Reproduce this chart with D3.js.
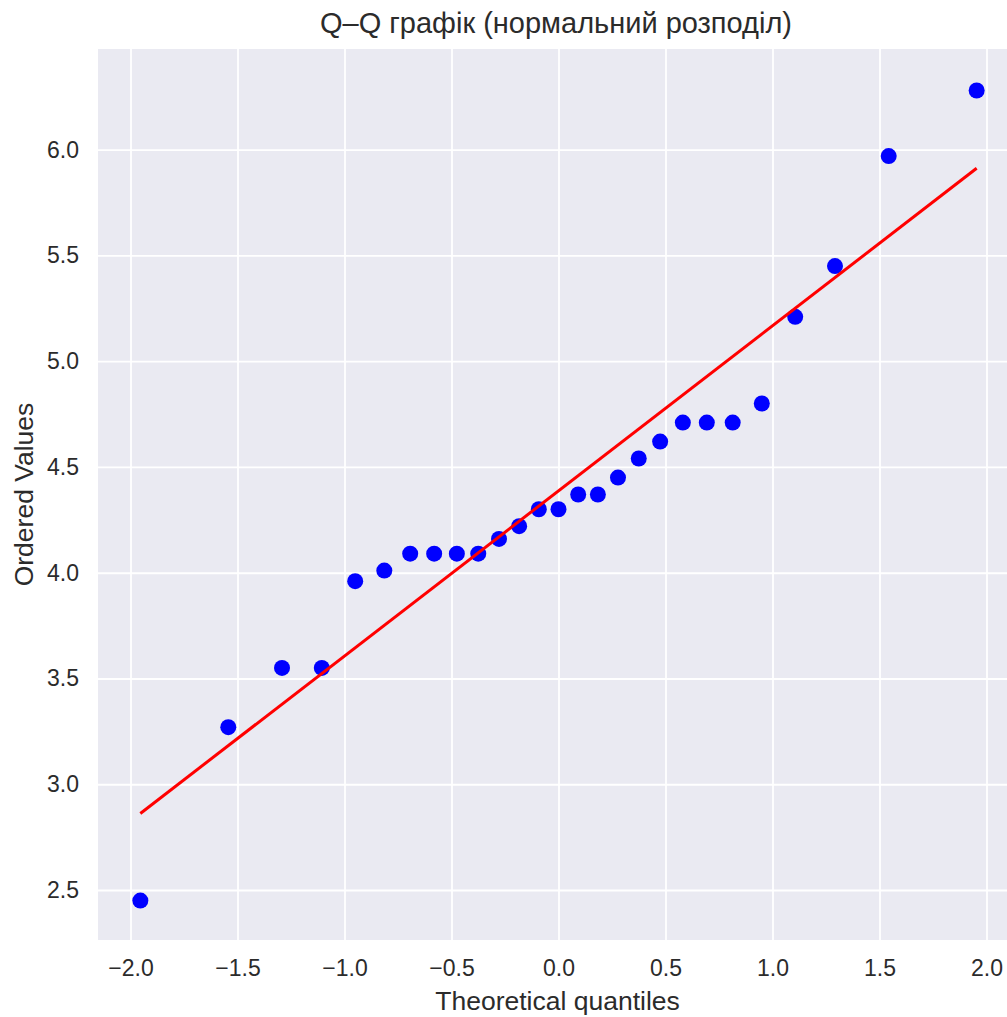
<!DOCTYPE html>
<html>
<head>
<meta charset="utf-8">
<script src="https://cdn.jsdelivr.net/npm/d3@7"></script>
<style>
  body { margin: 0; background: #fff; }
  svg text { font-family: "Liberation Sans", Arial, sans-serif; fill: #2b2b2b; }
</style>
</head>
<body>
<svg id="chart" width="1007" height="1017"></svg>
<script>
// -----------------------------------------------------------------------------

var titleText = 'Q\u2013Q графік (нормальний розподіл)';
var xLabelText = 'Theoretical quantiles';
var yLabelText = 'Ordered Values';

// theoretical quantiles
var theoretical = [
  -1.954, -1.543, -1.292, -1.106, -0.950, -0.814, -0.693, -0.581, -0.475,
  -0.375, -0.278, -0.184, -0.092, 0.000, 0.092, 0.184, 0.278, 0.375,
  0.475, 0.581, 0.693, 0.814, 0.950, 1.106, 1.292, 1.543, 1.954
];

// ordered sample values
var ordered = [
  2.45, 3.27, 3.55, 3.55, 3.96, 4.01, 4.09, 4.09, 4.09,
  4.09, 4.16, 4.22, 4.30, 4.30, 4.37, 4.37, 4.45, 4.54,
  4.62, 4.71, 4.71, 4.71, 4.80, 5.21, 5.45, 5.97, 6.28
];

// fitted line (slope, intercept)
var fitSlope = 0.7805;
var fitIntercept = 4.387;

var xTicks = [-2.0, -1.5, -1.0, -0.5, 0.0, 0.5, 1.0, 1.5, 2.0];
var yTicks = [2.5, 3.0, 3.5, 4.0, 4.5, 5.0, 5.5, 6.0];

// -----------------------------------------------------------------------------

var svg = d3.select('#chart');

var plotLeft = 98;
var plotTop = 49;
var plotBottom = 940;

var x = d3.scaleLinear().domain([-2.0, 2.0]).range([130.5, 986.5]);
var y = d3.scaleLinear().domain([2.5, 6.0]).range([890, 149.7]);

var plotRight = x(2.156);

svg.append('rect')
  .attr('x', plotLeft)
  .attr('y', plotTop)
  .attr('width', plotRight - plotLeft)
  .attr('height', plotBottom - plotTop)
  .attr('fill', '#eaeaf2');

// - - - - - - - - - - - - - - - - - - - - - - - - - - - - - - - - - - - - - -

function fmt(v) {
  return d3.format('.1f')(v).replace('-', '\u2212');
}

var xAxis = svg.append('g')
  .attr('transform', 'translate(0,' + plotBottom + ')')
  .call(d3.axisBottom(x).tickValues(xTicks).tickFormat(fmt)
    .tickSize(-(plotBottom - plotTop)).tickPadding(20));

var yAxis = svg.append('g')
  .attr('transform', 'translate(' + plotLeft + ',0)')
  .call(d3.axisLeft(y).tickValues(yTicks).tickFormat(fmt)
    .tickSize(-(plotRight - plotLeft)).tickPadding(19));

[xAxis, yAxis].forEach(function (ax) {
  ax.select('.domain').remove();
  ax.selectAll('.tick line')
    .attr('stroke', '#ffffff')
    .attr('stroke-width', 1.8);
  ax.selectAll('.tick text')
    .attr('fill', '#2b2b2b')
    .style('font-size', '23px')
    .style('font-family', '"Liberation Sans", Arial, sans-serif');
});

yAxis.selectAll('.tick line').attr('x2', plotRight - plotLeft);

// - - - - - - - - - - - - - - - - - - - - - - - - - - - - - - - - - - - - - -

var points = theoretical.map(function (t, i) {
  return { t: t, v: ordered[i] };
});

svg.append('g')
  .selectAll('circle')
  .data(points)
  .join('circle')
  .attr('cx', function (d) { return x(d.t); })
  .attr('cy', function (d) { return y(d.v); })
  .attr('r', 8)
  .attr('fill', '#0000ff');

var tMin = d3.min(theoretical);
var tMax = d3.max(theoretical);

svg.append('line')
  .attr('x1', x(tMin))
  .attr('y1', y(fitIntercept + fitSlope * tMin))
  .attr('x2', x(tMax))
  .attr('y2', y(fitIntercept + fitSlope * tMax))
  .attr('stroke', '#ff0000')
  .attr('stroke-width', 3);

// - - - - - - - - - - - - - - - - - - - - - - - - - - - - - - - - - - - - - -

svg.append('text')
  .attr('x', 556)
  .attr('y', 33)
  .attr('text-anchor', 'middle')
  .style('font-size', '29px')
  .text(titleText);

svg.append('text')
  .attr('x', 557.5)
  .attr('y', 1010)
  .attr('text-anchor', 'middle')
  .style('font-size', '26.5px')
  .text(xLabelText);

svg.append('text')
  .attr('transform', 'translate(32.5,' + ((plotTop + plotBottom) / 2) + ') rotate(-90)')
  .attr('text-anchor', 'middle')
  .style('font-size', '26.5px')
  .text(yLabelText);

// -----------------------------------------------------------------------------
</script>
</body>
</html>
